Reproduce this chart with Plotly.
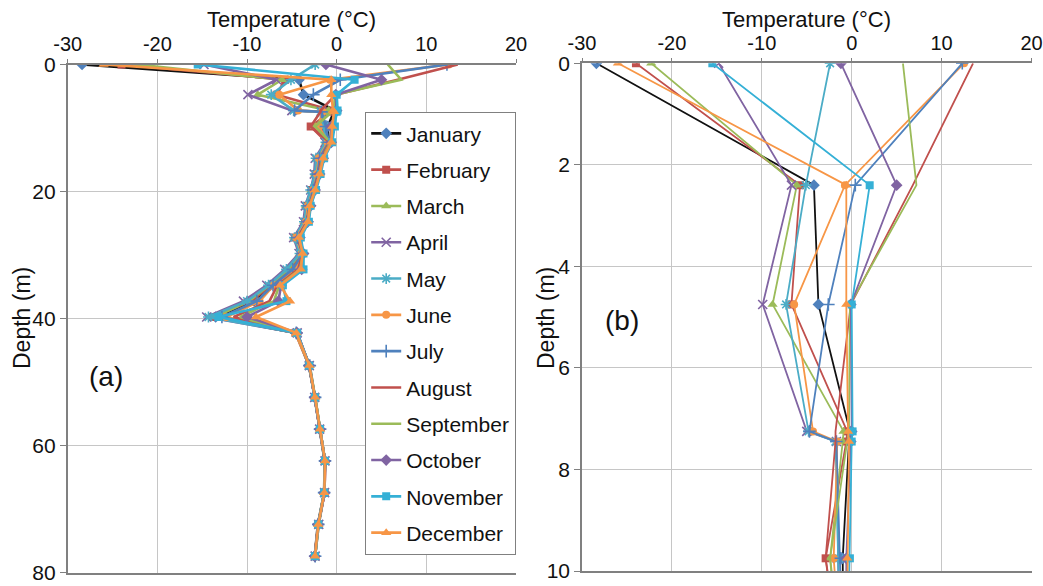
import plotly.graph_objects as go

# ---------------- data ----------------
depths = [0, 2.4, 4.75, 7.25, 7.45, 9.75, 12.25, 14.75, 17.25, 19.75, 22.25, 24.75,
          27.25, 29.75, 32.25, 34.75, 37.25, 39.75, 42.25, 47.4, 52.4, 57.4, 62.4,
          67.4, 72.4, 77.4]

months = ["January", "February", "March", "April", "May", "June", "July",
          "August", "September", "October", "November", "December"]

jan = [-28.4, -4.2, -3.7, -0.2, -0.3, -1.0, -0.9, -1.8, -2.2, -2.7, -3.2, -3.4, -4.4, -3.9, -5.3, -7.4, -9.2, -13.5, -4.5, -3.1, -2.45, -1.9, -1.35, -1.4, -2.1, -2.45]
feb = [-24.0, -5.75, -6.7, -0.5, -0.6, -2.9, -1.1, -2.0, -2.3, -2.8, -3.3, -3.5, -4.6, -4.0, -5.0, -7.2, -9.6, -13.8, -4.6, -3.1, -2.4, -1.85, -1.3, -1.35, -2.05, -2.4]
mar = [-22.3, -6.1, -8.8, -0.9, -1.0, -2.4, -1.2, -2.2, -2.4, -2.8, -3.4, -3.6, -4.7, -4.1, -5.4, -7.5, -9.8, -13.6, -4.5, -3.0, -2.4, -1.85, -1.3, -1.4, -2.05, -2.45]
apr = [-14.8, -6.7, -9.9, -5.0, -1.7, -1.6, -1.3, -2.4, -2.5, -2.9, -3.5, -3.7, -4.8, -4.2, -5.8, -7.8, -10.4, -14.5, -4.4, -3.05, -2.45, -1.9, -1.3, -1.35, -2.0, -2.4]
may = [-2.4, -5.1, -7.3, -4.8, -1.8, -1.4, -1.2, -2.3, -2.4, -2.9, -3.4, -3.6, -4.7, -4.1, -5.6, -7.6, -10.0, -14.3, -4.5, -3.1, -2.4, -1.9, -1.3, -1.4, -2.05, -2.4]
jun = [12.5, -0.75, -6.4, -4.3, -1.6, -2.0, -1.0, -2.0, -2.2, -2.6, -3.2, -3.4, -4.5, -3.9, -4.6, -7.0, -8.6, -12.3, -4.6, -3.05, -2.45, -1.85, -1.3, -1.35, -2.05, -2.45]
jul = [12.3, 0.4, -2.6, -4.7, -1.7, -1.2, -0.9, -1.9, -2.1, -2.6, -3.1, -3.3, -4.4, -3.8, -4.9, -7.1, -8.9, -12.8, -4.5, -3.0, -2.4, -1.85, -1.3, -1.4, -2.05, -2.4]
aug = [13.5, 6.8, -0.1, -1.8, -1.8, -2.9, -0.8, -1.7, -2.0, -2.5, -3.0, -3.3, -4.3, -3.8, -4.3, -6.6, -7.5, -11.5, -4.4, -3.05, -2.45, -1.9, -1.3, -1.35, -2.05, -2.45]
sep = [5.7, 7.2, -0.2, -0.3, -0.5, -2.4, -0.7, -1.6, -1.9, -2.4, -3.0, -3.2, -4.2, -3.7, -4.1, -6.4, -7.0, -10.8, -4.5, -3.05, -2.4, -1.85, -1.3, -1.4, -2.0, -2.4]
octo = [-1.2, 5.0, -0.1, 0.0, -0.1, -0.6, -0.6, -1.5, -1.9, -2.4, -2.9, -3.2, -4.1, -3.7, -3.9, -6.2, -6.5, -10.0, -4.4, -3.05, -2.45, -1.85, -1.3, -1.35, -2.05, -2.45]
nov = [-15.5, 2.0, 0.0, 0.1, 0.0, -0.2, -0.5, -1.4, -1.8, -2.3, -2.9, -3.1, -4.0, -3.7, -3.7, -6.0, -5.6, -13.2, -4.4, -3.05, -2.42, -1.86, -1.3, -1.38, -2.05, -2.42]
dec = [-26.0, -0.6, -0.6, -0.4, -0.3, -0.5, -0.6, -1.5, -1.9, -2.4, -3.0, -3.2, -4.2, -3.8, -4.0, -6.3, -5.2, -9.0, -4.5, -3.05, -2.42, -1.86, -1.3, -1.38, -2.05, -2.42]

series = [jan, feb, mar, apr, may, jun, jul, aug, sep, octo, nov, dec]

x_ticks = [-30, -20, -10, 0, 10, 20]
x_tick_labels = ["-30", "-20", "-10", "0", "10", "20"]
y_ticks_a = [0, 20, 40, 60, 80]
y_ticks_b = [0, 2, 4, 6, 8, 10]

# ---------------- styles ----------------
line_colors = ["#111111", "#C0504D", "#9BBB59", "#8064A2", "#4BACC6", "#F79646",
               "#4F81BD", "#C0504D", "#9BBB59", "#8064A2", "#35B0D6", "#F79646"]
marker_colors = ["#4F81BD", "#C0504D", "#9BBB59", "#8064A2", "#4BACC6", "#F79646",
                 "#4F81BD", "#C0504D", "#9BBB59", "#8064A2", "#35B0D6", "#F79646"]
symbols = ["diamond", "square", "triangle-up", "x-thin", "asterisk", "circle",
           "cross-thin", None, None, "diamond", "square", "triangle-up"]
open_syms = {"x-thin", "asterisk", "cross-thin"}

fig = go.Figure()

for panel, (xa, ya, lw) in enumerate([("x", "y", 2.6), ("x2", "y2", 1.8)]):
    for i, name in enumerate(months):
        sym = symbols[i]
        if sym is None:
            mode = "lines"
            marker = None
        elif sym in open_syms:
            mode = "lines+markers"
            marker = dict(symbol=sym, size=9, color=marker_colors[i],
                          line=dict(width=1.6, color=marker_colors[i]))
        else:
            mode = "lines+markers"
            sz = 9 if sym in ("triangle-up", "diamond") else 8
            marker = dict(symbol=sym, size=sz, color=marker_colors[i],
                          line=dict(width=0))
        fig.add_trace(go.Scatter(
            x=series[i], y=depths, name=name, mode=mode,
            line=dict(color=line_colors[i], width=lw),
            marker=marker, xaxis=xa, yaxis=ya,
            legendgroup=name, showlegend=(panel == 0),
        ))

# figure fills the page exactly (body margin removed in post_script)
W, H = 1043, 586

def px(x):
    return x / W

def py(y):
    return 1 - y / H

# plot areas in page px: (left, right, top, bottom)
ax_a = (67.7, 516.0, 64.5, 572.7)
ax_b = (582.0, 1031.5, 63.3, 571.0)

def xdom(a):
    return [px(a[0]), px(a[1])]

def ydom(a):
    return [py(a[3]), py(a[2])]

font_family = "Liberation Sans, Arial, sans-serif"
grid_c = "#C6C6C6"
axis_c = "#808080"
txt_c = "#111111"

common_x = dict(range=[-30, 20], tickvals=x_ticks, ticktext=x_tick_labels, side="top",
                showgrid=True, gridcolor=grid_c, gridwidth=1, zeroline=False, showline=True,
                linecolor=axis_c, linewidth=1.6, mirror=True, ticks="outside",
                ticklen=4, tickcolor=axis_c, automargin=False, ticklabeloverflow="allow",
                tickfont=dict(size=20, color=txt_c, family=font_family))
common_y = dict(showgrid=True, gridcolor=grid_c, gridwidth=1, zeroline=False,
                showline=True, linecolor=axis_c, linewidth=1.6, ticks="outside",
                ticklen=6, tickcolor=axis_c, automargin=False, ticklabeloverflow="allow",
                tickfont=dict(size=21, color=txt_c, family=font_family))

def ann(text, x, y, size, angle=0, yanchor="middle"):
    return dict(text=text, x=px(x), y=py(y), xref="paper", yref="paper",
                showarrow=False, xanchor="center", yanchor=yanchor, textangle=angle,
                font=dict(size=size, family=font_family, color=txt_c))

fig.update_layout(
    width=W, height=H,
    margin=dict(l=0, r=0, t=0, b=0),
    paper_bgcolor="white", plot_bgcolor="white",
    font=dict(family=font_family, color=txt_c),
    xaxis=dict(domain=xdom(ax_a), anchor="y", **common_x),
    yaxis=dict(domain=ydom(ax_a), anchor="x", range=[80, 0], tickvals=y_ticks_a, **common_y),
    xaxis2=dict(domain=xdom(ax_b), anchor="y2", **common_x),
    yaxis2=dict(domain=ydom(ax_b), anchor="x2", range=[10, 0], tickvals=y_ticks_b, **common_y),
    showlegend=True,
    legend=dict(x=px(365), y=py(112), xanchor="left", yanchor="top",
                bgcolor="white", bordercolor="#808080", borderwidth=1.2,
                font=dict(size=21, family=font_family, color=txt_c),
                itemwidth=30, tracegroupgap=6),
    annotations=[
        ann("Temperature (°C)", (ax_a[0] + ax_a[1]) / 2, 5, 22, yanchor="top"),
        ann("Temperature (°C)", (ax_b[0] + ax_b[1]) / 2, 5, 22, yanchor="top"),
        ann("Depth (m)", 22, 318, 23, -90),
        ann("Depth (m)", 546, 318, 23, -90),
        ann("(a)", 106, 376, 28),
        ann("(b)", 622, 320, 28),
    ],
)

fig.write_html("out.html",
               config={"displayModeBar": False},
               post_script="document.body.style.margin='0';document.body.style.overflow='hidden';")
